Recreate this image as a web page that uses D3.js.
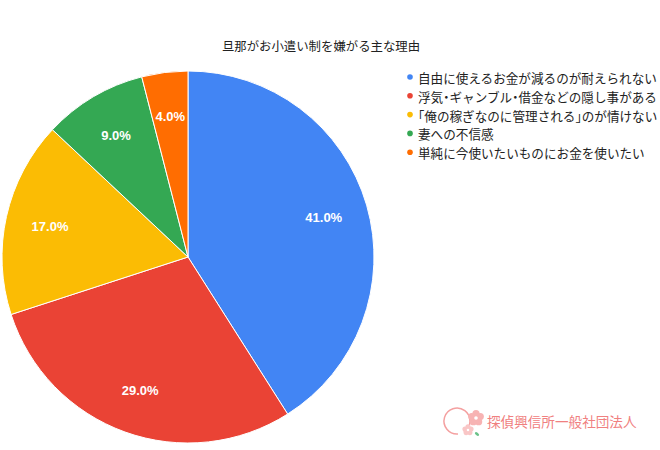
<!DOCTYPE html>
<html><head><meta charset="utf-8">
<script src="https://cdn.jsdelivr.net/npm/d3@7"></script>
<style>body{margin:0;background:#fff;}svg{display:block;font-family:"Noto Sans CJK JP","Liberation Sans",Arial,sans-serif;} .half{font-feature-settings:"halt" 1;}</style>
</head><body>
<svg id="chart" width="660" height="450"></svg>
<script>
const title = "旦那がお小遣い制を嫌がる主な理由";
const categories = ["自由に使えるお金が減るのが耐えられない","浮気・ギャンブル・借金などの隠し事がある","「俺の稼ぎなのに管理される」のが情けない","妻への不信感","単純に今使いたいものにお金を使いたい"];
const values = [41.0, 29.0, 17.0, 9.0, 4.0];
const colors = ["#4285F4","#EA4335","#FBBC04","#34A853","#FF6D01"];
const footer = "探偵興信所一般社団法人";

const svg = d3.select("#chart");
const cx = 188, cy = 257, r = 186;
const pie = d3.pie().sort(null).value(d => d.v);
const data = pie(values.map((v,i)=>({v, c: categories[i], col: colors[i]})));
const arc = d3.arc().innerRadius(0).outerRadius(r);
const labelArc = d3.arc().innerRadius(r*0.76).outerRadius(r*0.76);
const g = svg.append("g").attr("transform", `translate(${cx},${cy})`);
g.selectAll("path").data(data).join("path")
  .attr("d", arc).attr("fill", d => d.data.col)
  .attr("stroke", "#fff").attr("stroke-width", 1);
g.selectAll("text").data(data).join("text")
  .attr("transform", d => `translate(${labelArc.centroid(d)})`)
  .attr("text-anchor","middle").attr("dominant-baseline","central")
  .attr("fill","#fff").attr("font-size",13).attr("font-weight","bold")
  .attr("font-family","Liberation Sans, Arial, sans-serif")
  .text(d => d.data.v.toFixed(1) + "%");

svg.append("text").attr("x", 321).attr("y", 51).attr("text-anchor","middle")
  .attr("font-size",12.4).attr("fill","#222").text(title);

const leg = svg.append("g").attr("transform","translate(410,77)");
const rows = leg.selectAll("g").data(categories).join("g")
  .attr("transform",(d,i)=>`translate(0,${i*18.8})`);
rows.append("circle").attr("cx",0).attr("cy",0).attr("r",2.8).attr("fill",(d,i)=>colors[i]);
rows.append("text").attr("x",8).attr("y",0).attr("dominant-baseline","central")
  .attr("font-size",12.6).attr("fill","#222")
  .each(function(d){
    const t = d3.select(this);
    d.split(/([・「」])/).filter(s=>s.length).forEach(s=>{
      const sp = t.append("tspan").text(s);
      if (/^[・「」]$/.test(s)) sp.attr("class","half");
    });
  });

// footer logo
const logo = svg.append("g").attr("transform","translate(462,420)");
logo.append("path").attr("d","M -4 14 A 13 13 0 1 1 2 12").attr("fill","none").attr("stroke","#f4a0a0").attr("stroke-width",1.5);
const petals = (x,y,s,col)=>{ for(let k=0;k<5;k++){const a=k*72*Math.PI/180; logo.append("circle").attr("cx",x+Math.sin(a)*s).attr("cy",y-Math.cos(a)*s).attr("r",s*0.8).attr("fill",col);} logo.append("circle").attr("cx",x).attr("cy",y).attr("r",s*0.4).attr("fill","#fff");};
petals(14,-2,4.5,"#f7b3b3");
petals(6,10,3.2,"#f9c6c6");
logo.append("ellipse").attr("cx",15).attr("cy",14).attr("rx",2.5).attr("ry",1.4).attr("fill","#6cc28a").attr("transform","rotate(40 15 14)");
svg.append("text").attr("x",487).attr("y",427).attr("font-size",13.6).attr("fill","#f08080")
  .text(footer);
</script>
</body></html>
